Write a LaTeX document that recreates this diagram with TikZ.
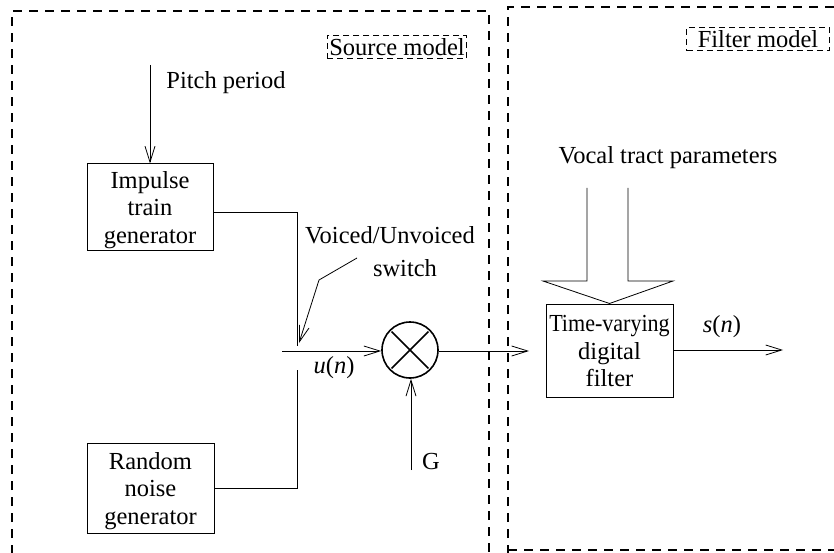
\documentclass[tikz,border=0pt]{standalone}
\usepackage{fontspec}
\setmainfont{Liberation Serif}
\usetikzlibrary{arrows.meta,calc}
\begin{document}
\begin{tikzpicture}[x=1pt,y=-1pt,
  every node/.style={font=\fontsize{24.5}{27.5}\selectfont},
  blk/.style={draw, line width=1pt, inner sep=0pt},
  blktext/.style={align=center, inner sep=0pt},
  arr/.style={line width=0.8pt, -{Straight Barb[length=16pt,width=10pt,line width=0.8pt]}},
  conn/.style={line width=0.8pt},
  bigdash/.style={line width=2pt, dash pattern=on 9pt off 7pt},
  smalldash/.style={draw, line width=0.6pt, dash pattern=on 6pt off 4pt, inner xsep=2pt, inner ysep=3pt},
  lbl/.style={inner sep=0pt}]
\useasboundingbox (0,0) rectangle (834,553);
\begin{scope}
\clip (0,0) rectangle (834,553);
\draw[bigdash] (12,570) -- (12,11) -- (489,11) -- (489,570);
\draw[bigdash] (508,570) -- (508,7) -- (850,7);
\draw[bigdash] (508,550) -- (850,550);
\end{scope}
\node[smalldash] (src) at (397,47) {Source model};
\node[smalldash, inner xsep=11pt] (flt) at (758,39) {Filter model};

\node[blk, minimum width=126pt, minimum height=86pt,
  label={[blktext, yshift=-3pt]center:Impulse\\train\\generator}] (imp) at (150,207) {};
\node[blk, minimum width=127pt, minimum height=90pt,
  label={[blktext, yshift=-3pt]center:Random\\noise\\generator}] (noise) at (150.5,488) {};
\node[blk, minimum width=127pt, minimum height=93pt,
  label={[blktext, yshift=-1pt]center:\scalebox{0.9}[1]{Time-varying}\\digital\\filter}] (filt) at (609.5,350.5) {};
\node[draw, circle, line width=1.6pt, minimum size=56pt, inner sep=0pt] (mul) at (410,350) {};
\draw[line width=1.6pt] ($(mul.center)+(135:26)$) -- ($(mul.center)+(-45:26)$);
\draw[line width=1.6pt] ($(mul.center)+(45:26)$) -- ($(mul.center)+(-135:26)$);

\node[lbl] (pitch) at (226,83) {Pitch period};
\coordinate (pp) at (150,65);
\draw[arr] (pp) -- (imp.north);

\coordinate (s1) at (297,212);
\coordinate (swt) at (297,346);
\draw[conn] (imp.east |- s1) -- (s1) -- (swt);
\coordinate (s2) at (297,488);
\coordinate (swb) at (297,370);
\draw[conn] (noise.east |- s2) -- (s2) -- (swb);

\node[lbl] (vu1) at (390,235) {Voiced/Unvoiced};
\node[lbl] (vu2) at (405,268) {switch};
\coordinate (sw1) at (357,258);
\coordinate (sw2) at (319,280);
\coordinate (sw3) at (299,343);
\draw[arr] (sw1) -- (sw2) -- (sw3);

\coordinate (uin) at (282,351);
\draw[arr] (uin) -- (uin -| mul.west);
\node[lbl] (un) at (334,368) {\textit{u}(\textit{n})};

\coordinate (g) at (411,470);
\draw[arr] (g) -- (g |- mul.south);
\node[lbl] (glbl) at (431,462) {G};

\coordinate (mo) at (529,351);
\draw[arr] (mul.east |- mo) -- (mo);

\coordinate (so) at (783,350);
\draw[arr] (filt.east |- so) -- (so);
\node[lbl] (sn) at (722,327) {\textit{s}(\textit{n})};

\node[lbl] (vt) at (668,158) {Vocal tract parameters};
\draw[conn] (587,188) -- (587,281) -- (543,281) -- (filt.north) -- (673,281) -- (628,281) -- (628,188);
\end{tikzpicture}
\end{document}
